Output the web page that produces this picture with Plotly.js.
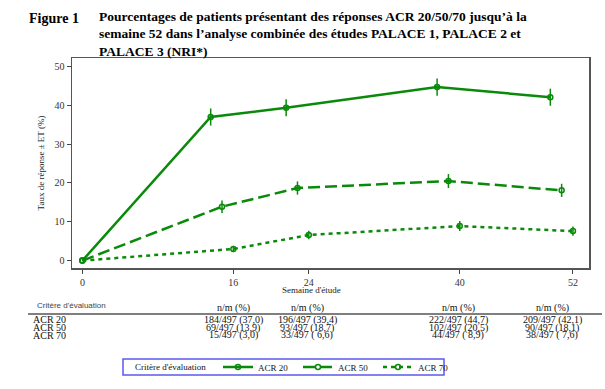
<!DOCTYPE html>
<html>
<head>
<meta charset="utf-8">
<script src="https://cdn.plot.ly/plotly-3.0.1.min.js"></script>
<style>html,body{margin:0;padding:0;background:#fff;}#chart{width:605px;height:389px;}</style>
</head>
<body>
<div id="chart"></div>
<script>
// ---- data ----
const weeks = [0, 16, 24, 40, 52];
const seriesNames = ['ACR 20', 'ACR 50', 'ACR 70'];
const acr20 = [0, 37.0, 39.4, 44.7, 42.1];
const acr50 = [0, 13.9, 18.7, 20.5, 18.1];
const acr70 = [0, 3.0, 6.6, 8.9, 7.6];
const se20 = [0, 2.2, 2.2, 2.2, 2.2];
const se50 = [0, 1.6, 1.7, 1.8, 1.7];
const se70 = [0, 0.8, 1.1, 1.3, 1.2];
const yTicks = [0, 10, 20, 30, 40, 50];
const tableWeeks = [16, 24, 40, 52];
const tableHeader = 'n/m (%)';
const tableRowHeader = "Critère d'évaluation";
const legendTitle = "Critère d'évaluation";
const tab20 = ['184/497 (37,0)', '196/497 (39,4)', '222/497 (44,7)', '209/497 (42,1)'];
const tab50 = ['69/497 (13,9)', '93/497 (18,7)', '102/497 (20,5)', '90/497 (18,1)'];
const tab70 = ['15/497 (3,0)', '33/497 ( 6,6)', '44/497 ( 8,9)', '38/497 ( 7,6)'];

// ---- layout helpers (pixel -> paper) ----
const L = 72, R = 16, T = 58, B = 121, W = 605, H = 389;
const pw = W - L - R, ph = H - T - B;
const px = v => (v - L) / pw;
const py = v => (H - B - v) / ph;
const green = '#0a8a0a';
const serif = 'Liberation Serif, Times New Roman, serif';

const dodge = [-2.4, -1.2, 0];
const vals = [acr20, acr50, acr70];
const ses = [se20, se50, se70];
const dashes = ['solid', '12px,5px', '4px,4px'];

const traces = vals.map((v, i) => ({
  type: 'scatter', mode: 'lines+markers', name: seriesNames[i],
  x: weeks.map(w => w === 0 ? 0 : w + dodge[i]), y: v,
  line: {color: green, width: 2.5, dash: dashes[i]},
  marker: {color: green, size: 5, symbol: 'circle-open', line: {color: green, width: 1.5}},
  error_y: {type: 'data', array: ses[i], visible: true, color: green, thickness: 1.5, width: 0},
  cliponaxis: false
}));

const annotations = [];
annotations.push({xref: 'paper', yref: 'paper', x: px(27), y: py(18), xanchor: 'left', yanchor: 'middle',
  text: 'Figure 1', showarrow: false, font: {family: serif, size: 14, weight: 'bold', color: '#000'}});
annotations.push({xref: 'paper', yref: 'paper', x: px(311), y: py(290), xanchor: 'center', yanchor: 'middle',
  text: "Semaine d'étude", showarrow: false, font: {family: serif, size: 9, color: '#222'}});
annotations.push({xref: 'paper', yref: 'paper', x: px(35), y: py(305), xanchor: 'left', yanchor: 'middle',
  text: tableRowHeader, showarrow: false, font: {family: 'Liberation Sans Narrow, Liberation Sans, sans-serif', size: 8, color: '#444'}});
annotations.push({xref: 'paper', yref: 'paper', x: px(133), y: py(367), xanchor: 'left', yanchor: 'middle',
  text: legendTitle, showarrow: false, font: {family: serif, size: 9, color: '#111'}});
const colCenters = [233, 307, 458, 552];
const rowY = [319.5, 327.5, 335];
const rows = [tab20, tab50, tab70];
tableWeeks.forEach((w, j) => {
  annotations.push({xref: 'paper', yref: 'paper', x: px(colCenters[j]), y: py(308), xanchor: 'center', yanchor: 'middle',
    text: tableHeader, showarrow: false, font: {family: serif, size: 10, color: '#111'}});
  rows.forEach((r, k) => {
    annotations.push({xref: 'paper', yref: 'paper', x: px(colCenters[j]), y: py(rowY[k]), xanchor: 'center', yanchor: 'middle',
      text: r[j], showarrow: false, font: {family: serif, size: 10, color: '#111'}});
  });
});
seriesNames.forEach((n, k) => {
  annotations.push({xref: 'paper', yref: 'paper', x: px(31), y: py(rowY[k]), xanchor: 'left', yanchor: 'middle',
    text: n, showarrow: false, font: {family: serif, size: 10, color: '#111'}});
});

const layout = {
  width: W, height: H,
  margin: {l: L, r: R, t: T, b: B},
  paper_bgcolor: '#fff', plot_bgcolor: '#fff',
  title: {
    text: "Pourcentages de patients présentant des réponses ACR 20/50/70 jusqu’à la<br>semaine 52 dans l’analyse combinée des études PALACE 1, PALACE 2 et<br>PALACE 3 (NRI*)",
    font: {family: serif, size: 13.5, weight: 'bold', color: '#000'},
    xref: 'container', yref: 'container', x: 99 / W, xanchor: 'left', y: 1 - 20.5 / H, yanchor: 'top'
  },
  showlegend: true,
  legend: {
    orientation: 'h', xref: 'container', yref: 'container',
    x: 218 / W, xanchor: 'left', y: 1 - 367 / H, yanchor: 'middle',
    bgcolor: 'rgba(0,0,0,0)', borderwidth: 0,
    font: {family: serif, size: 9, color: '#111'},
    itemwidth: 30, entrywidth: 35
  },
  xaxis: {
    range: [-1.1, 53.7], tickvals: weeks, ticktext: weeks.map(String),
    ticks: 'outside', ticklen: 4, tickwidth: 1, tickcolor: '#444',
    showgrid: false, zeroline: false, showline: true, mirror: true, linecolor: '#555', linewidth: 1.5,
    tickfont: {family: serif, size: 10, color: '#333'}
  },
  yaxis: {
    range: [-1.9, 52.2], tickvals: yTicks,
    ticks: 'outside', ticklen: 4, tickwidth: 1, tickcolor: '#444',
    showgrid: false, zeroline: false, showline: true, mirror: true, linecolor: '#555', linewidth: 1.5,
    tickfont: {family: serif, size: 10, color: '#333'},
    title: {text: 'Taux de réponse ± ET (%)', font: {family: serif, size: 9, color: '#222'}, standoff: 8}
  },
  shapes: [
    {type: 'line', xref: 'paper', yref: 'paper', x0: px(28), x1: px(602), y0: py(314), y1: py(314),
      line: {color: '#555', width: 1.5}},
    {type: 'rect', xref: 'paper', yref: 'paper', x0: px(123), x1: px(444), y0: py(359), y1: py(375),
      line: {color: '#5a5af0', width: 1.5}, fillcolor: 'rgba(0,0,0,0)'}
  ],
  annotations: annotations
};

Plotly.newPlot('chart', traces, layout, {displayModeBar: false, staticPlot: true});
</script>
</body>
</html>
